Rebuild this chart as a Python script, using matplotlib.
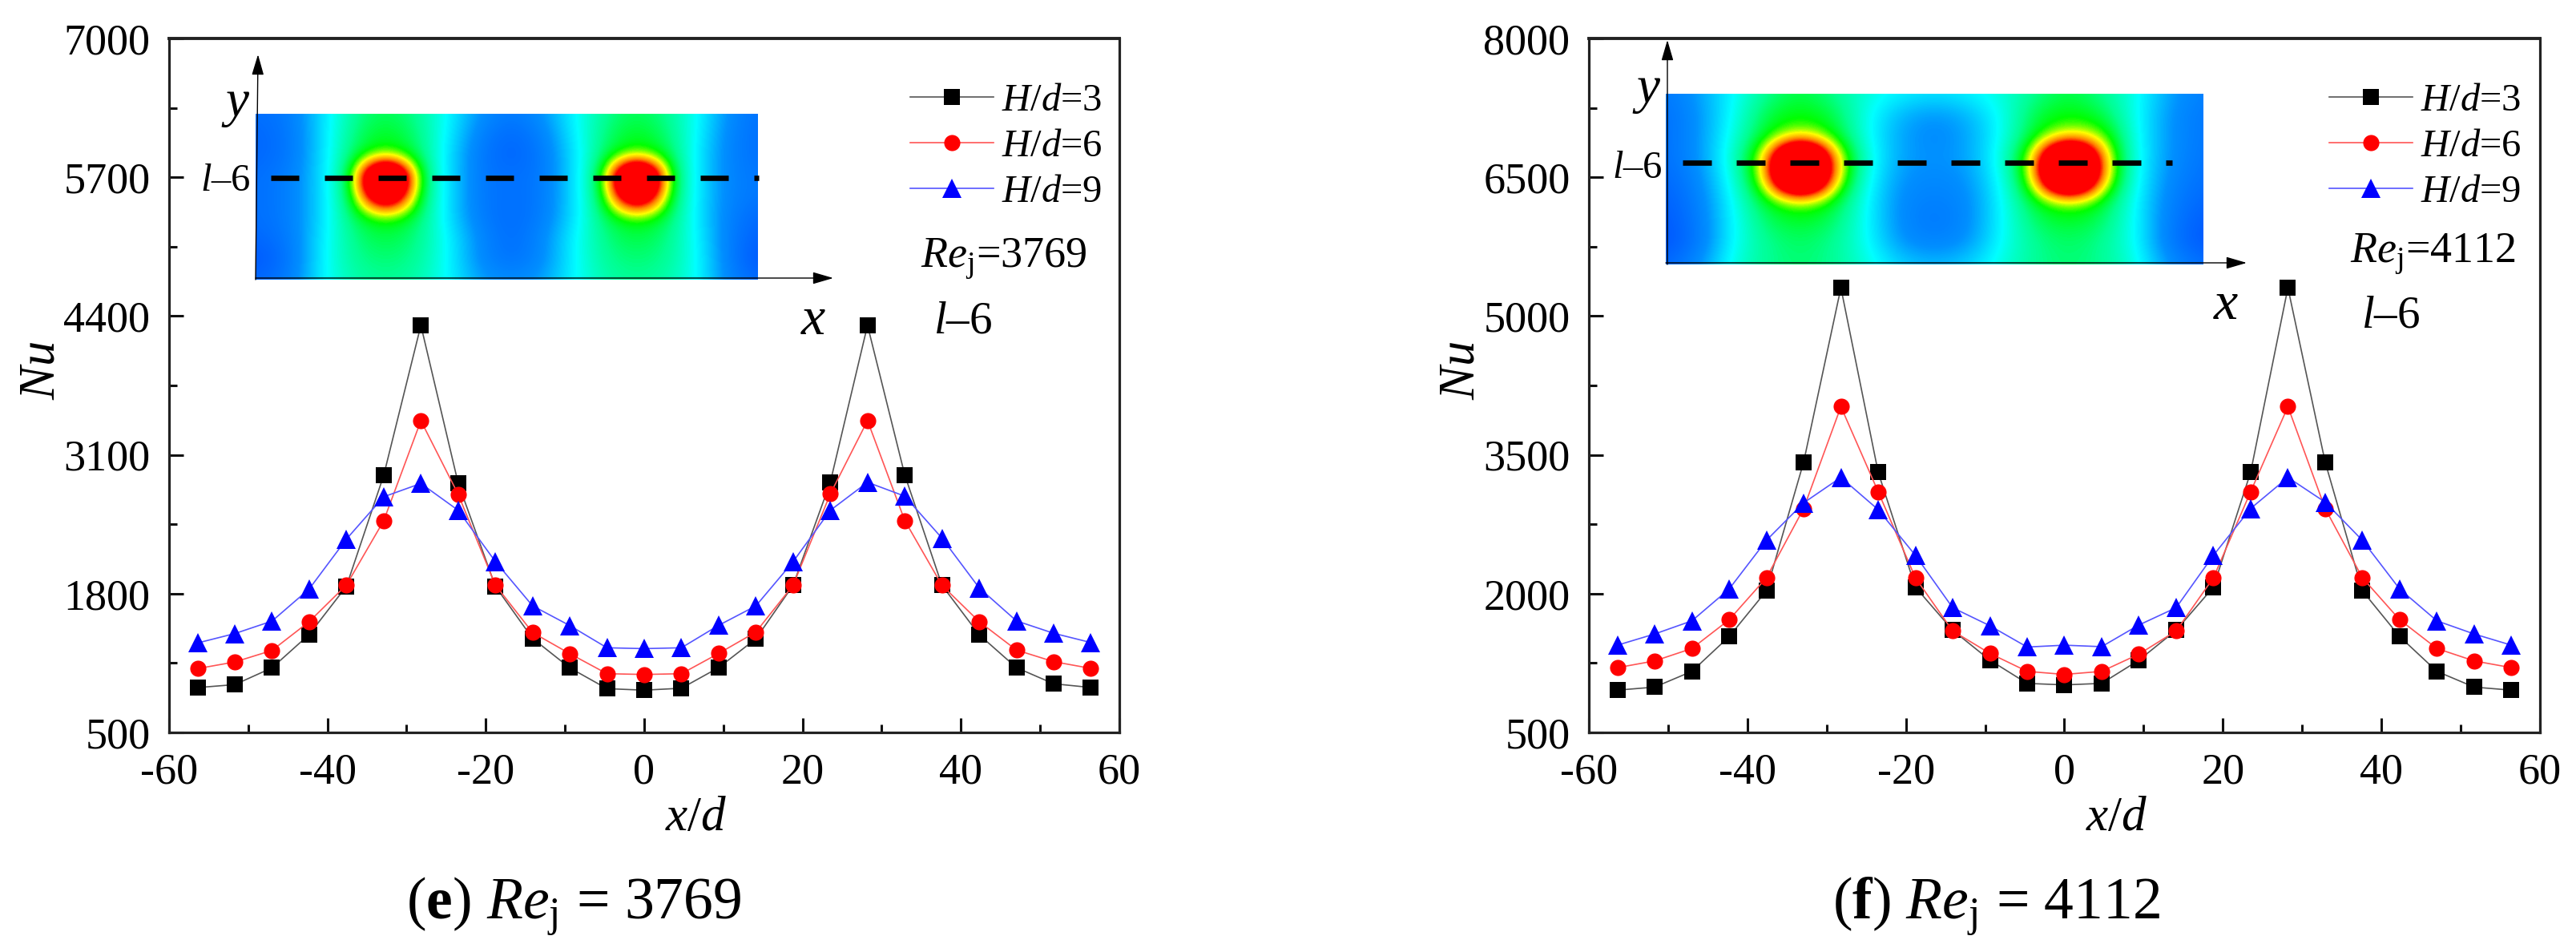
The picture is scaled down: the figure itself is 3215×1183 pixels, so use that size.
import numpy as np
import matplotlib as mpl
import matplotlib.pyplot as plt
from matplotlib.colors import LinearSegmentedColormap

mpl.rcParams['font.family'] = ['Liberation Serif', 'DejaVu Serif']
mpl.rcParams['mathtext.fontset'] = 'custom'
mpl.rcParams['mathtext.rm'] = 'Liberation Serif'
mpl.rcParams['mathtext.it'] = 'Liberation Serif:italic'
mpl.rcParams['mathtext.bf'] = 'Liberation Serif:bold'
mpl.rcParams['axes.unicode_minus'] = False

W, H = 3216, 1183

# data
x_d = [-56.4, -51.7, -47.0, -42.3, -37.6, -32.9, -28.2, -23.5, -18.8, -14.1, -9.4, -4.7, 0,
       4.7, 9.4, 14.1, 18.8, 23.5, 28.2, 32.9, 37.6, 42.3, 47.0, 51.7, 56.4]

nu_e_3 = [920, 948, 1105, 1418, 1869, 2907, 4313, 2837, 1869, 1381, 1105, 910, 896,
          914, 1107, 1377, 1878, 2843, 4313, 2913, 1878, 1415, 1107, 956, 921]
nu_e_6 = [1098, 1160, 1268, 1538, 1881, 2482, 3420, 2732, 1881, 1436, 1238, 1050, 1043,
          1050, 1240, 1440, 1878, 2734, 3421, 2485, 1878, 1538, 1272, 1163, 1100]
nu_e_9 = [1338, 1426, 1543, 1844, 2311, 2707, 2832, 2581, 2101, 1686, 1501, 1293, 1285,
          1293, 1503, 1685, 2099, 2580, 2843, 2713, 2320, 1854, 1545, 1429, 1342]

nu_f_3 = [957, 990, 1160, 1536, 2030, 3422, 5306, 3313, 2070, 1605, 1281, 1030, 1014,
          1030, 1281, 1605, 2070, 3313, 5306, 3422, 2030, 1536, 1160, 990, 957]
nu_f_6 = [1200, 1273, 1407, 1718, 2171, 2920, 4021, 3102, 2171, 1597, 1354, 1160, 1127,
          1160, 1346, 1597, 2171, 3102, 4021, 2920, 2171, 1718, 1407, 1273, 1200]
nu_f_9 = [1443, 1564, 1706, 2050, 2576, 2981, 3256, 2908, 2414, 1848, 1653, 1423, 1443,
          1427, 1661, 1848, 2414, 2920, 3256, 2989, 2576, 2050, 1706, 1564, 1443]

yticks_e = [500, 1800, 3100, 4400, 5700, 7000]
yticks_f = [500, 2000, 3500, 5000, 6500, 8000]
xticks = [-60, -40, -20, 0, 20, 40, 60]
xticklabels = ['-60', '-40', '-20', '0', '20', '40', '60']
labels = ['$H/d$=3', '$H/d$=6', '$H/d$=9']

# coarse colour levels of the two contour insets, top row first
heat_e = [
    [.12, .15, .30, .42, .46, .42, .33, .20, .14, .20, .33, .42, .46, .42, .33, .18, .12],
    [.10, .14, .30, .44, .49, .44, .32, .16, .10, .16, .32, .44, .49, .44, .32, .16, .12],
    [.10, .14, .30, .46, .53, .46, .30, .14, .09, .14, .30, .46, .53, .47, .30, .16, .12],
    [.12, .16, .30, .49, 1.35, .49, .30, .14, .12, .14, .30, .49, 1.35, .49, .30, .16, .14],
    [.12, .16, .30, .48, 1.05, .48, .30, .14, .12, .14, .30, .48, 1.05, .48, .30, .16, .14],
    [.12, .16, .30, .46, .51, .46, .30, .15, .11, .15, .30, .46, .51, .46, .30, .15, .10],
    [.10, .15, .32, .43, .47, .43, .33, .18, .11, .18, .33, .43, .47, .43, .32, .14, .08],
    [.06, .14, .33, .42, .44, .42, .33, .18, .12, .18, .33, .42, .44, .42, .33, .14, .05],
    [.10, .16, .33, .40, .42, .40, .33, .22, .18, .22, .33, .40, .42, .40, .33, .16, .10],
]
heat_f = [
    [.14, .22, .33, .42, .47, .42, .36, .32, .30, .32, .36, .42, .47, .42, .35, .22, .16],
    [.12, .20, .34, .47, .50, .47, .34, .24, .20, .24, .34, .47, .50, .47, .34, .20, .14],
    [.12, .20, .36, .49, .57, .50, .34, .22, .18, .22, .34, .49, .58, .55, .34, .20, .14],
    [.12, .20, .38, .58, 1.35, .62, .36, .22, .20, .22, .36, .58, 1.35, .62, .34, .20, .13],
    [.10, .18, .36, .57, 1.35, .60, .34, .20, .18, .20, .34, .57, 1.35, .60, .34, .18, .12],
    [.08, .16, .34, .49, .55, .49, .33, .18, .16, .18, .33, .49, .55, .49, .33, .16, .10],
    [.06, .15, .33, .45, .48, .45, .33, .18, .14, .18, .33, .45, .48, .45, .33, .15, .07],
    [.05, .14, .34, .42, .45, .42, .34, .20, .17, .20, .34, .42, .45, .42, .34, .14, .06],
    [.10, .20, .36, .42, .44, .42, .36, .28, .25, .28, .36, .42, .44, .42, .36, .20, .12],
]

jetish = LinearSegmentedColormap.from_list('jetish', [
    (0.0, '#0040ff'), (0.2, '#0090ff'), (0.33, '#00ffff'), (0.42, '#00ff90'),
    (0.5, '#00ff00'), (0.58, '#ffff00'), (0.66, '#ff8000'), (0.72, '#ff0000'), (1.0, '#ff0000')])


def box(left, top, right, bottom):
    return [left / W, 1 - bottom / H, (right - left) / W, (bottom - top) / H]


def draw_panel(left, right, yticks, series, legend_left):
    ax = fig.add_axes(box(left, 48, right, 914))
    colors = ['black', 'red', 'blue']
    line_colors = ['#555555', '#ff5555', '#5555ff']
    markers = ['s', 'o', '^']
    sizes = [14, 14.5, 17]
    for nu, c, lc, m, s, lab in zip(series, colors, line_colors, markers, sizes, labels):
        ax.plot(x_d, nu, color=lc, lw=1.2, marker=m, ms=s, mfc=c, mec=c, mew=0, label=lab)
    ax.set_xlim(-60, 60)
    ax.set_ylim(yticks[0], yticks[-1])
    ax.set_xticks(xticks)
    ax.set_xticklabels(xticklabels)
    ax.set_yticks(yticks)
    ax.set_xticks([-50, -30, -10, 10, 30, 50], minor=True)
    step = yticks[1] - yticks[0]
    ax.set_yticks([t + step / 2 for t in yticks[:-1]], minor=True)
    ax.tick_params(which='major', direction='in', length=13, width=2.2, labelsize=39,
                   top=False, right=False, color='#111111')
    ax.tick_params(which='minor', direction='in', length=7, width=2.2,
                   top=False, right=False, color='#111111')
    ax.tick_params(axis='x', which='major', pad=18)
    ax.tick_params(axis='y', which='major', pad=17)
    for sp in ax.spines.values():
        sp.set_linewidth(2.3)
        sp.set_color('#222222')
    ax.spines['top'].set_linewidth(2.8)
    ax.patch.set_alpha(0)
    # legend, anchored in pixels
    anchor = ((legend_left - left) / (right - left), 1 - (104 - 48) / (914 - 48))
    ax.legend(loc='upper left', bbox_to_anchor=anchor, frameon=False, fontsize=35,
              borderpad=0, borderaxespad=0, handlelength=2.13, handletextpad=0.22,
              labelspacing=0.27)
    return ax


def draw_inset(heat, left, top, right, bottom, shift=0):
    a = fig.add_axes(box(left, top, right, bottom))
    a.imshow(heat, cmap=jetish, vmin=0, vmax=1, aspect='auto', interpolation='bicubic')
    # cell centres run edge to edge
    a.set_xlim(shift, 16 + shift)
    a.set_ylim(8, 0)
    a.axis('off')


fig = plt.figure(figsize=(W / 100, H / 100), dpi=100)

draw_panel(211, 1397, yticks_e, [nu_e_3, nu_e_6, nu_e_9], 1136)
draw_panel(1983, 3170, yticks_f, [nu_f_3, nu_f_6, nu_f_9], 2907)

draw_inset(heat_e, 319, 142, 946, 349, shift=-0.15)
draw_inset(heat_f, 2079, 117, 2750, 330)

# everything else is placed in picture pixels
ann = fig.add_axes([0, 0, 1, 1])
ann.set_xlim(0, W)
ann.set_ylim(H, 0)
ann.axis('off')

# section lines
ann.plot([338, 947], [222, 222], color='black', lw=4.8, ls=(0, (35 / 4.8 / (100 / 72), 32 / 4.8 / (100 / 72))))
ann.plot([2100, 2711], [203, 203], color='black', lw=4.8, ls=(0, (36 / 4.8 / (100 / 72), 31 / 4.8 / (100 / 72))))

# inset axes arrows
arrow = dict(arrowstyle='-|>,head_length=0.72,head_width=0.21', color='black', lw=1.0,
             shrinkA=0, shrinkB=0, mutation_scale=22)
ann.annotate('', xy=(322, 68), xytext=(319, 349), arrowprops=arrow)
ann.annotate('', xy=(1040, 347), xytext=(319, 347), arrowprops=arrow)
ann.annotate('', xy=(2081, 50), xytext=(2081, 330), arrowprops=arrow)
ann.annotate('', xy=(2804, 328), xytext=(2079, 328), arrowprops=arrow)


def t(x, y, s, size, **kw):
    ann.text(x, y, s, fontsize=size, va='baseline', **kw)


section = '$l$\u2013$\\mathit{6}$'

# panel e text
t(68, 462, '$Nu$', 45, rotation=90, ha='center', rotation_mode='anchor')
t(869, 1036, '$x/d$', 44, ha='center')
t(276, 145, '$y$', 47)
t(250, 238, section, 35)
t(999, 417, '$x$', 49)
t(1149, 333, '$Re_{\\mathrm{j}}$=3769', 39)
t(1165, 415, section, 41)
t(925, 1146, '($\\mathbf{e}$) $Re_{\\mathrm{j}}$ = 3769', 53, ha='right')

# panel f text
t(1840, 462, '$Nu$', 45, rotation=90, ha='center', rotation_mode='anchor')
t(2642, 1036, '$x/d$', 44, ha='center')
t(2037, 128, '$y$', 47)
t(2012, 222, section, 35)
t(2762, 398, '$x$', 49)
t(2933, 327, '$Re_{\\mathrm{j}}$=4112', 39)
t(2947, 408, section, 41)
t(2696, 1146, '($\\mathbf{f}$) $Re_{\\mathrm{j}}$ = 4112', 53, ha='right')

fig.savefig('out.png', dpi=100)
